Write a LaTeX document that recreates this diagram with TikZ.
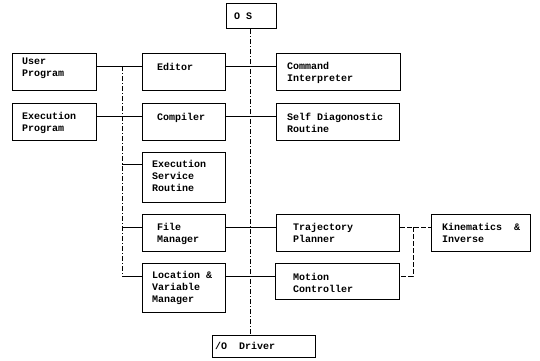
\documentclass[tikz,border=0pt]{standalone}
\usepackage{fontspec}
\setmonofont{Liberation Mono}
\usetikzlibrary{calc}
\tikzset{
  box/.style={draw, line width=1.1pt, inner sep=0pt, anchor=north west},
  lbl/.style={inner sep=0pt, anchor=north west, align=left, font=\ttfamily\bfseries\fontsize{10}{12}\selectfont},
  link/.style={line width=0.8pt},
  bus/.style={line width=0.8pt, dash pattern=on 5pt off 2pt on 1pt off 2pt},
  kin/.style={line width=0.8pt, dash pattern=on 5pt off 2pt},
}
\newcommand{\boxat}[6]{% name, left, top, right, bottom
  \node[box, minimum width={#4-#2}, minimum height={#5-#3}] (#1) at (#2,#3) {};}
\begin{document}
\begin{tikzpicture}[x=1pt,y=-1pt]
\useasboundingbox (0,0) rectangle (540,360);
% boxes
\boxat{OS}{226}{3}{276}{28}{}
\boxat{UP}{12}{53}{96}{90}{}
\boxat{ED}{142}{53}{225}{90}{}
\boxat{CI}{276}{53}{400}{90}{}
\boxat{EP}{12}{103}{96}{140}{}
\boxat{CO}{142}{103}{225}{140}{}
\boxat{SD}{276}{103}{399}{140}{}
\boxat{ES}{142}{152}{225}{202}{}
\boxat{FM}{142}{214}{225}{251}{}
\boxat{LV}{142}{263}{225}{312}{}
\boxat{TP}{276}{214}{399}{251}{}
\boxat{MC}{275}{263}{399}{299}{}
\boxat{KI}{431}{214}{530}{251}{}
\boxat{IO}{212}{335}{315}{357}{}
% labels
\node[lbl] (OSt) at ($(OS.north west)+(8,10)$) {O S};
\node[lbl] (UPt) at ($(UP.north west)+(10,5)$) {User\\Program};
\node[lbl] (EDt) at ($(ED.north west)+(15,10)$) {Editor};
\node[lbl] (CIt) at ($(CI.north west)+(11,9)$) {Command\\Interpreter};
\node[lbl] (EPt) at ($(EP.north west)+(10,9)$) {Execution\\Program};
\node[lbl] (COt) at ($(CO.north west)+(15,10)$) {Compiler};
\node[lbl] (SDt) at ($(SD.north west)+(11,10)$) {Self Diagonostic\\Routine};
\node[lbl] (ESt) at ($(ES.north west)+(10,8)$) {Execution\\Service\\Routine};
\node[lbl] (FMt) at ($(FM.north west)+(15,9)$) {File\\Manager};
\node[lbl] (LVt) at ($(LV.north west)+(10,8)$) {Location \&\\Variable\\Manager};
\node[lbl] (TPt) at ($(TP.north west)+(17,9)$) {Trajectory\\Planner};
\node[lbl] (MCt) at ($(MC.north west)+(18,10)$) {Motion\\Controller};
\node[lbl] (KIt) at ($(KI.north west)+(11,9)$) {Kinematics~~\&\\Inverse};
\node[lbl] (IOt) at ($(IO.north west)+(3,7)$) {/O~~Driver};
% central vertical
\draw[bus] (OS.south -| 250,0) -- (IO.north -| 250,0);
% left bus
\coordinate (bt) at (122,66);
\coordinate (bb) at (122,276);
\draw[bus] (bt) -- (bb);
\draw[link] ([yshift=-13pt]UP.north east) -- ([yshift=-13pt]ED.north west);
\draw[link] ([yshift=-13pt]EP.north east) -- ([yshift=-13pt]CO.north west);
\draw[link] ($(ES.north west)+(-20,12)$) -- ([yshift=-12pt]ES.north west);
\draw[link] ($(FM.north west)+(-20,13)$) -- ([yshift=-13pt]FM.north west);
\draw[link] (bb) -- ([yshift=-13pt]LV.north west);
% right links
\draw[link] ([yshift=-13pt]ED.north east) -- ([yshift=-13pt]CI.north west);
\draw[link] ([yshift=-13pt]CO.north east) -- ([yshift=-13pt]SD.north west);
\draw[link] ([yshift=-13pt]FM.north east) -- ([yshift=-13pt]TP.north west);
\draw[link] ([yshift=-13pt]LV.north east) -- ([yshift=-13pt]MC.north west);
% kinematics
\draw[kin] ([yshift=-13pt]TP.north east) -- ([yshift=-13pt]KI.north west);
\draw[kin] ($(TP.north east)+(13,13)$) |- ([yshift=-13pt]MC.north east);
\end{tikzpicture}
\end{document}
